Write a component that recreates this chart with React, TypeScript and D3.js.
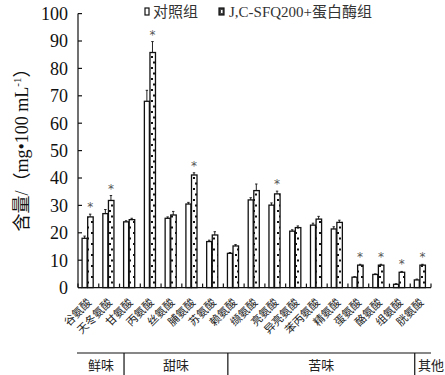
import { useEffect, useRef } from 'react';
import * as d3 from 'd3';

const categories = ['谷氨酸', '天冬氨酸', '甘氨酸', '丙氨酸', '丝氨酸', '脯氨酸', '苏氨酸', '赖氨酸', '缬氨酸', '亮氨酸', '异亮氨酸', '苯丙氨酸', '精氨酸', '蛋氨酸', '酪氨酸', '组氨酸', '胱氨酸'];
const controlValues = [18, 27, 24, 68, 25.3, 30.5, 16.8, 12.5, 32, 30.1, 20.6, 22.8, 21.4, 3.8, 4.8, 1.2, 2.8];
const controlErrors = [0.8, 1.5, 0.4, 4, 0.5, 0.6, 0.5, 0.3, 0.8, 0.8, 0.5, 0.7, 0.8, 0.2, 0.2, 0.2, 0.3];
const treatValues = [25.8, 31.8, 24.8, 85.8, 26.5, 41.1, 19.2, 15.2, 35.4, 34.2, 21.9, 25, 23.8, 8.2, 8.2, 5.6, 8.2];
const treatErrors = [1, 1.8, 0.5, 4, 1.3, 0.8, 1.2, 0.5, 2.4, 1, 0.6, 1, 0.8, 0.3, 0.3, 0.3, 0.3];
const significant = [true, true, false, true, false, true, false, false, false, true, false, false, false, true, true, true, true];
const yTicks = [0, 10, 20, 30, 40, 50, 60, 70, 80, 90, 100];
const groups = [
  { name: '鲜味', from: 0, to: 2 },
  { name: '甜味', from: 2, to: 7 },
  { name: '苦味', from: 7, to: 16 },
  { name: '其他', from: 16, to: 17 },
];
const legendLabels = ['对照组', 'J,C-SFQ200+蛋白酶组'];

const FONT = '"Liberation Serif", "Noto Sans CJK SC", serif';

export default function App() {
  const svgRef = useRef<SVGSVGElement>(null);

  useEffect(() => {
    if (!svgRef.current) return;
    const width = 445;
    const height = 375;
    const margin = { top: 13.6, right: 14, bottom: 87.4, left: 78 };

    const svg = d3.select(svgRef.current);
    svg.selectAll('*').remove();

    const x = d3.scaleBand<number>()
      .domain(d3.range(categories.length))
      .range([margin.left, width - margin.right])
      .padding(0);

    const y = d3.scaleLinear()
      .domain([0, 100])
      .range([height - margin.bottom, margin.top]);

    const defs = svg.append('defs');
    const pat = defs.append('pattern')
      .attr('id', 'dots')
      .attr('patternUnits', 'userSpaceOnUse')
      .attr('width', 6)
      .attr('height', 11);
    pat.append('rect').attr('width', 6).attr('height', 11).attr('fill', '#fff');
    pat.append('rect').attr('x', 1).attr('y', 1).attr('width', 2).attr('height', 2).attr('fill', '#111');
    pat.append('rect').attr('x', 3).attr('y', 6.5).attr('width', 2).attr('height', 2).attr('fill', '#111');

    const y0 = y(0);
    const bw = 5;

    // bars
    const g = svg.append('g');
    categories.forEach((_, i) => {
      const c = x(i)! + x.bandwidth() / 2 - 1;
      const cx = c - bw - 0.3;
      const tx = c + 0.3;
      // control
      g.append('line')
        .attr('x1', cx + bw / 2).attr('x2', cx + bw / 2)
        .attr('y1', y(controlValues[i])).attr('y2', y(controlValues[i] + controlErrors[i]))
        .attr('stroke', '#222').attr('stroke-width', 1);
      g.append('line')
        .attr('x1', cx + bw / 2 - 1.2).attr('x2', cx + bw / 2 + 1.2)
        .attr('y1', y(controlValues[i] + controlErrors[i])).attr('y2', y(controlValues[i] + controlErrors[i]))
        .attr('stroke', '#222').attr('stroke-width', 1);
      g.append('rect')
        .attr('x', cx).attr('y', y(controlValues[i]))
        .attr('width', bw).attr('height', y0 - y(controlValues[i]))
        .attr('fill', '#fff').attr('stroke', '#111').attr('stroke-width', 1.3);
      // treatment
      g.append('line')
        .attr('x1', tx + bw / 2).attr('x2', tx + bw / 2)
        .attr('y1', y(treatValues[i])).attr('y2', y(treatValues[i] + treatErrors[i]))
        .attr('stroke', '#222').attr('stroke-width', 1);
      g.append('line')
        .attr('x1', tx + bw / 2 - 1.2).attr('x2', tx + bw / 2 + 1.2)
        .attr('y1', y(treatValues[i] + treatErrors[i])).attr('y2', y(treatValues[i] + treatErrors[i]))
        .attr('stroke', '#222').attr('stroke-width', 1);
      g.append('rect')
        .attr('x', tx).attr('y', y(treatValues[i]))
        .attr('width', bw + 0.5).attr('height', y0 - y(treatValues[i]))
        .attr('fill', 'url(#dots)').attr('stroke', '#111').attr('stroke-width', 1.3);
      if (significant[i]) {
        g.append('text')
          .attr('x', tx + bw / 2)
          .attr('y', y(treatValues[i] + treatErrors[i]) - 3)
          .attr('text-anchor', 'middle')
          .attr('font-family', '"DejaVu Sans", sans-serif')
          .attr('font-size', 12)
          .attr('fill', '#555')
          .text('*');
      }
    });

    // axes
    const axis = svg.append('g').attr('stroke', '#111').attr('stroke-width', 1.2);
    axis.append('line')
      .attr('x1', margin.left).attr('x2', margin.left)
      .attr('y1', y(100)).attr('y2', y0);
    axis.append('line')
      .attr('x1', margin.left).attr('x2', width - margin.right)
      .attr('y1', y0).attr('y2', y0);
    yTicks.forEach(t => {
      axis.append('line')
        .attr('x1', margin.left).attr('x2', margin.left + 4)
        .attr('y1', y(t)).attr('y2', y(t));
    });
    d3.range(categories.length + 1).forEach(i => {
      const xx = i < categories.length ? x(i)! : width - margin.right;
      axis.append('line')
        .attr('x1', xx).attr('x2', xx)
        .attr('y1', y0).attr('y2', y0 - 4);
    });

    svg.append('g').selectAll('text')
      .data(yTicks)
      .join('text')
      .attr('x', margin.left - 10)
      .attr('y', d => y(d))
      .attr('dy', '0.35em')
      .attr('text-anchor', 'end')
      .attr('font-family', FONT)
      .attr('font-size', 18)
      .attr('fill', '#111')
      .text(d => d);

    // category labels
    svg.append('g').selectAll('text')
      .data(categories)
      .join('text')
      .attr('transform', (_, i) => `translate(${x(i)! + x.bandwidth() / 2 + 1},${y0 + 13}) rotate(-45)`)
      .attr('text-anchor', 'end')
      .attr('dy', '0.35em')
      .attr('font-family', FONT)
      .attr('font-size', 11)
      .attr('fill', '#222')
      .text(d => d);

    // y title
    svg.append('text')
      .attr('transform', `translate(28,${(margin.top + y0) / 2 - 5}) rotate(-90)`)
      .attr('text-anchor', 'middle')
      .attr('font-family', FONT)
      .attr('font-size', 18)
      .attr('fill', '#111')
      .text('含量/（mg•100 mL')
      .append('tspan').attr('font-size', 11).attr('dy', -7).text('-1')
      .clone().attr('font-size', 18).attr('dy', 7).text('）');

    // group bracket
    const by = 353;
    const br = svg.append('g').attr('stroke', '#111').attr('stroke-width', 1.2);
    br.append('line')
      .attr('x1', margin.left - 1).attr('x2', width - margin.right)
      .attr('y1', by).attr('y2', by);
    groups.slice(1).forEach(gr => {
      const xx = x(gr.from)! + 4.5;
      br.append('line').attr('x1', xx).attr('x2', xx).attr('y1', by).attr('y2', height);
    });
    svg.append('g').selectAll('text')
      .data(groups)
      .join('text')
      .attr('x', d => {
        if (d.name === '其他') return 431;
        const a = d.from === 0 ? margin.left : x(d.from)! + 4.5;
        const b = x(d.to)! + 4.5;
        return (a + b) / 2;
      })
      .attr('y', 370)
      .attr('text-anchor', 'middle')
      .attr('font-family', FONT)
      .attr('font-size', 13)
      .attr('fill', '#222')
      .text(d => d.name);

    // legend
    const lg = svg.append('g');
    lg.append('rect').attr('x', 145).attr('y', 8).attr('width', 4).attr('height', 7)
      .attr('fill', '#fff').attr('stroke', '#111').attr('stroke-width', 1.2);
    lg.append('text').attr('x', 153).attr('y', 17)
      .attr('font-family', FONT).attr('font-size', 15).attr('fill', '#333').text(legendLabels[0]);
    lg.append('rect').attr('x', 219).attr('y', 8).attr('width', 5).attr('height', 7)
      .attr('fill', '#444').attr('stroke', '#111').attr('stroke-width', 1.2);
    lg.append('rect').attr('x', 221).attr('y', 10).attr('width', 1.5).attr('height', 3).attr('fill', '#fff');
    lg.append('text').attr('x', 229).attr('y', 17)
      .attr('font-family', FONT).attr('font-size', 15).attr('fill', '#333').text(legendLabels[1]);
  }, []);

  return (
    <svg ref={svgRef} width={445} height={375} style={{ position: 'absolute', left: 0, top: 0, background: '#fff' }} />
  );
}
